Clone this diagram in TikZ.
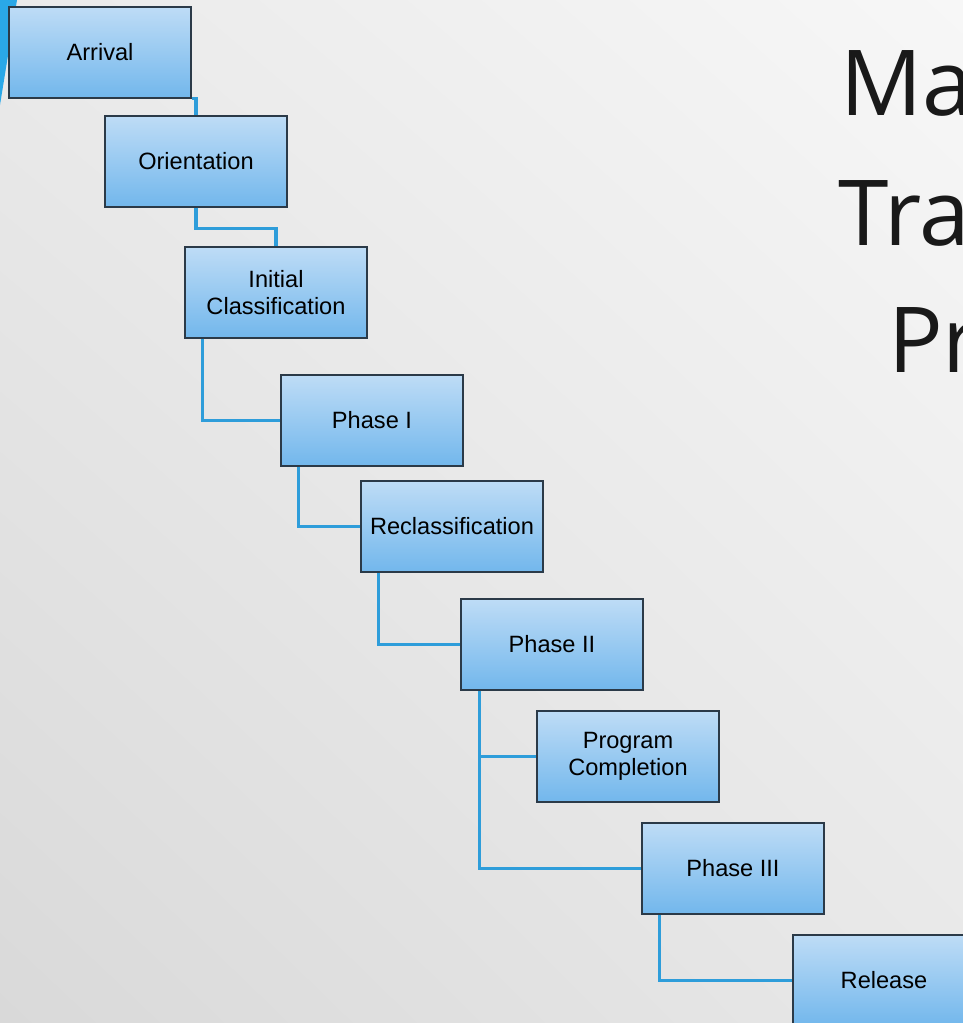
\documentclass[tikz,border=0pt]{standalone}
\usepackage{fontspec}
\usetikzlibrary{shadings}
\setmainfont{Liberation Sans}
\newfontfamily\titlefont{Open Sans}
\definecolor{boxtop}{HTML}{BEDCF6}
\definecolor{boxbot}{HTML}{72B7EC}
\definecolor{boxline}{HTML}{2B3A48}
\definecolor{linkblue}{HTML}{2E9DDA}
\definecolor{accent}{HTML}{2AA8E8}
\definecolor{bgUL}{HTML}{EAEAEA}
\definecolor{bgUR}{HTML}{F7F7F7}
\definecolor{bgLL}{HTML}{D9D9D9}
\definecolor{bgLR}{HTML}{E8E8E8}
\begin{document}
\begin{tikzpicture}[x=1pt,y=-1pt,
  stepbox/.style={draw=boxline, line width=1.3pt, top color=boxtop, bottom color=boxbot,
    minimum width=182pt, minimum height=91pt, inner sep=0pt, align=center,
    font=\fontsize{23.6}{27.5}\selectfont, text=black},
  link/.style={draw=linkblue, line width=3.5pt},
  titletext/.style={anchor=base west, inner sep=0pt, text=black!90,
    font=\titlefont\fontsize{91}{91}\selectfont}]
\useasboundingbox (0,0) rectangle (963,1023);
\shade[upper left=bgUL, upper right=bgUR, lower left=bgLL, lower right=bgLR] (0,0) rectangle (963,1023);
\fill[accent] (0,0) -- (17,0) -- (0,105) -- cycle;

\node[titletext] (t1) at (840,115) {Ma};
\node[titletext] (t2) at (838,245) {Tra};
\node[titletext] (t3) at (888,372) {Pr};

\node[stepbox] (arr) at (100,52.5) {Arrival};
\node[stepbox] (ori) at (196,161.5) {Orientation};
\node[stepbox] (ini) at (276,292.5) {Initial\\Classification};
\node[stepbox] (p1) at (372,420.5) {Phase I};
\node[stepbox] (rec) at (452,526.5) {Reclassification};
\node[stepbox] (p2) at (552,644.5) {Phase II};
\node[stepbox] (pc) at (628,756.5) {Program\\Completion};
\node[stepbox] (p3) at (733,868.5) {Phase III};
\node[stepbox] (rel) at (884,980.5) {Release};

\draw[link] (arr.south east) -| (ori.north);
\draw[link] (ori.south) -- ++(0,21) coordinate (oribend) -| (ini.north);
\draw[link] ([xshift=18pt]ini.south west) |- (p1.west);
\draw[link] ([xshift=18pt]p1.south west) |- (rec.west);
\draw[link] ([xshift=18pt]rec.south west) |- (p2.west);
\draw[link] ([xshift=19pt]p2.south west) |- (p3.west);
\draw[link] ([xshift=19pt]p2.south west) |- (pc.west);
\draw[link] ([xshift=18pt]p3.south west) |- (rel.west);
\end{tikzpicture}
\end{document}
